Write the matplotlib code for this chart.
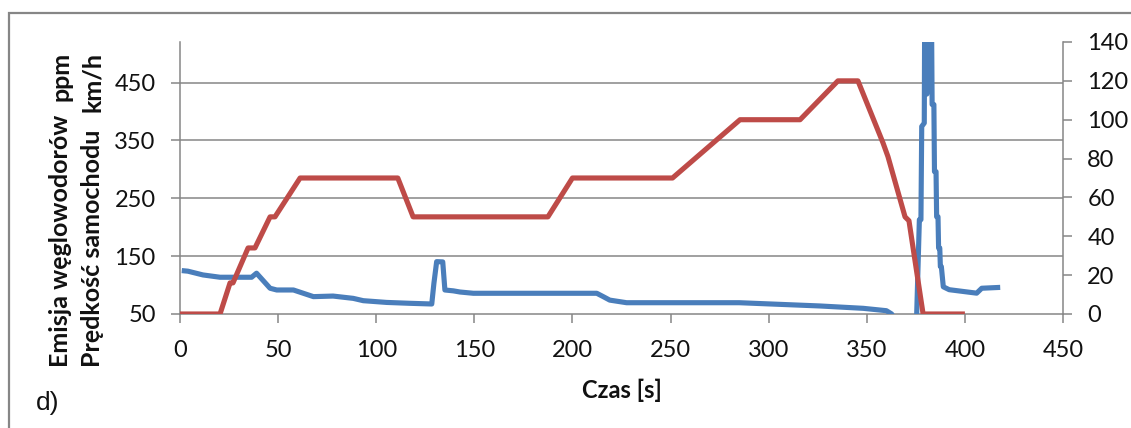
import matplotlib
matplotlib.use("Agg")
import matplotlib.pyplot as plt
from matplotlib.patches import Rectangle

# Hydrocarbon emission [ppm] over time
t_hc = [0.9, 4, 11.7, 20.4, 36.5, 39, 45.9, 49.3, 57.8, 68, 78, 88.3, 93.4,
        105.3, 117, 128.3, 129.4, 130.8, 133.9, 135, 139.3, 142.7, 149.5,
        212.4, 215.7, 219, 227.6, 285, 326, 348.2, 360, 362.7, 364, 375,
        375.4, 376.8, 377.6, 378, 379.3, 379.5, 380.2, 380.6, 381.2, 381.7,
        382.3, 383, 383.3, 384.2, 384.5,
        385.3, 385.6, 386.3, 386.6, 387.2, 387.5, 388, 389, 392, 406, 408.6, 418]
hc_ppm = [125, 124, 117.5, 113.5, 113.5, 120.5, 94.5, 91.5, 91.5, 80, 81, 77, 73,
          70, 68.5, 67.3, 103, 140.5, 140, 91.5, 90, 88, 85.8,
          85.8, 80, 74, 69.5, 69.5, 63.9, 59.8, 55.7, 50, 40, 40,
          45, 213, 213, 374, 380, 560, 560, 430, 560, 440,
          560, 560, 412, 412, 296,
          296, 218, 218, 164, 164, 132, 132, 97, 92, 86, 94.5, 96]

# Vehicle speed [km/h] over time
t_speed = [0, 20.4, 25.5, 27, 34.7, 38.2, 45.9, 48.4, 61.2, 111, 118.8, 187.5,
           200, 251, 285.4, 316, 335.3, 345.5, 358.3, 360.8, 369.5, 371.5, 378.7, 400]
speed_kmh = [0, 0, 16, 16, 34, 34, 50, 50, 70, 70, 50, 50,
             70, 70, 100, 100, 120, 120, 88, 81, 50, 48, 0, 0]

x_ticks = [0, 50, 100, 150, 200, 250, 300, 350, 400, 450]
hc_ticks = [50, 150, 250, 350, 450]
speed_ticks = [0, 20, 40, 60, 80, 100, 120, 140]

BLUE = "#4A7EBB"
RED = "#BE4B48"
GRID = "#868686"
FONT = "Lato"

W, H = 1131, 428
fig = plt.figure(figsize=(W / 100, H / 100), dpi=100)

# chart-area frame
fig.patches.append(Rectangle((9 / W, -0.1), 1.2, 1 - 13 / H + 0.1,
                             transform=fig.transFigure, fill=False,
                             edgecolor=GRID, linewidth=1.6))

ax = fig.add_axes([180 / W, 1 - 314 / H, 883 / W, 272 / H])
ax2 = ax.twinx()

ax.set_xlim(0, 450)
ax.set_ylim(50, 520)
ax2.set_ylim(0, 140)

for y in hc_ticks[1:]:
    ax.axhline(y, color=GRID, linewidth=1.1, zorder=1)

ax.plot(t_hc, hc_ppm, color=BLUE, linewidth=3.7, solid_joinstyle="round",
        solid_capstyle="butt", zorder=3)
ax2.plot(t_speed, speed_kmh, color=RED, linewidth=3.7, solid_joinstyle="round",
         solid_capstyle="butt", zorder=3)

ax.set_xticks(x_ticks)
ax.set_yticks(hc_ticks)
ax2.set_yticks(speed_ticks)

for a in (ax, ax2):
    a.spines["top"].set_visible(False)
    for s in ("left", "right", "bottom"):
        a.spines[s].set_color(GRID)
        a.spines[s].set_linewidth(1.1)
    a.tick_params(colors=GRID, width=1.1, length=6.5, labelcolor="#111111",
                  labelsize=17)
    for lbl in a.get_xticklabels() + a.get_yticklabels():
        lbl.set_fontfamily(FONT)

ax.spines["right"].set_visible(False)
ax2.spines["left"].set_visible(False)
ax2.spines["bottom"].set_visible(False)
ax.tick_params(axis="y", pad=11)
ax.tick_params(axis="x", pad=12)
ax2.tick_params(axis="y", pad=11)

ax.set_xlabel("Czas [s]", fontfamily=FONT, fontweight="bold", fontsize=17,
              labelpad=13, color="#111111")

# two-line axis title: quantity at the bottom, unit at the top
LABEL_KW = dict(rotation=90, ha="center", fontfamily=FONT, fontweight="bold",
                fontsize=18, color="#111111")
fig.text(61 / W, 1 - 367 / H, "Emisja węglowodorów", va="bottom", **LABEL_KW)
fig.text(61 / W, 1 - 52 / H, "ppm", va="top", **LABEL_KW)
fig.text(92 / W, 1 - 367 / H, "Prędkość samochodu", va="bottom", **LABEL_KW)
fig.text(92 / W, 1 - 52 / H, "km/h", va="top", **LABEL_KW)

fig.text(36 / W, 1 - 403 / H, "d)", ha="left", va="center",
         fontfamily="Liberation Sans", fontsize=19, color="#111111")

fig.savefig("out.png", dpi=100)
